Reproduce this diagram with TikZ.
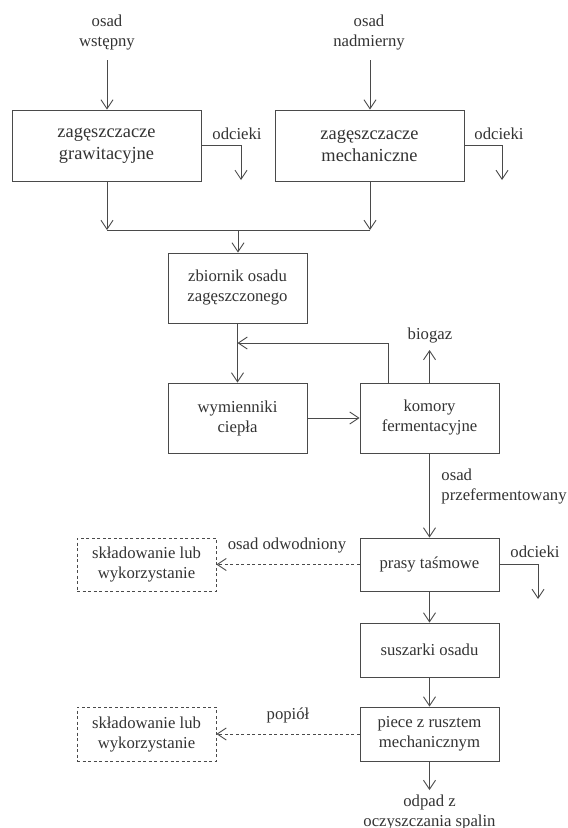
\documentclass[tikz,border=0pt]{standalone}
\usepackage{fontspec}
\setmainfont{Liberation Serif}
\usetikzlibrary{arrows.meta,calc}
\definecolor{ink}{HTML}{333333}
\definecolor{lineink}{HTML}{4A4A4A}
\newcommand\lblfont{\fontsize{16.7bp}{20bp}\selectfont}
\newcommand\bigfont{\fontsize{18.4bp}{22bp}\selectfont}
\begin{document}
\begin{tikzpicture}[x=1bp,y=-1bp,
  line width=0.9bp,
  color=lineink,
  box/.style={draw=lineink, rectangle, inner sep=0pt, align=center, font=\lblfont, text=ink, minimum width=139bp},
  bigbox/.style={box, font=\bigfont, minimum width=189bp, minimum height=71bp},
  dbox/.style={box, dash pattern=on 3bp off 2.5bp},
  arr/.style={-{Straight Barb[length=9bp,width=12bp]}},
  dline/.style={dash pattern=on 3bp off 2.5bp},
  lbl/.style={align=center, font=\lblfont, text=ink, inner sep=0pt}
]
\useasboundingbox (0,0) rectangle (568,828);

% boxes
\node[bigbox] (g1) at (106.5,145.5) {zagęszczacze\\grawitacyjne};
\node[bigbox] (g2) at (369.5,145.5) {zagęszczacze\\mechaniczne};
\node[box, minimum height=70bp] (z) at (237.5,288) {zbiornik osadu\\zagęszczonego};
\node[box, minimum height=70bp] (w) at (237.5,418) {wymienniki\\ciepła};
\node[box, minimum height=70bp] (k) at (429.5,418) {komory\\fermentacyjne};
\node[box, minimum height=53bp] (p) at (429.5,564.5) {prasy taśmowe};
\node[box, minimum height=54bp] (s) at (429.5,650) {suszarki osadu};
\node[box, minimum height=54bp] (pc) at (429.5,734) {piece z rusztem\\mechanicznym};
\node[dbox, minimum height=53bp] (d1) at (146.5,564.5) {składowanie lub\\wykorzystanie};
\node[dbox, minimum height=54bp] (d2) at (146.5,734) {składowanie lub\\wykorzystanie};

% labels
\node[lbl] (l1) at (107,33) {osad\\wstępny};
\node[lbl] (l2) at (369,33) {osad\\nadmierny};
\node[lbl] (lo1) at (237,134) {odcieki};
\node[lbl] (lo2) at (499,134) {odcieki};
\node[lbl] (lb) at (430,336) {biogaz};
\node[lbl, anchor=west, align=left] (lpf) at (441,486.5) {osad\\przefermentowany};
\node[lbl] (lo3) at (535,552) {odcieki};
\node[lbl] (lod) at (287,546) {osad odwodniony};
\node[lbl] (lpp) at (288,715) {popiół};
\node[lbl] (lout) at (429.5,812) {odpad z\\oczyszczania spalin};

% coordinates
\coordinate (in1) at (107,60);
\coordinate (in2) at (370,60);
\coordinate (o1) at (241,180);
\coordinate (o2) at (502,180);
\coordinate (m1) at (107,230);
\coordinate (m2) at (370,230);
\coordinate (mj) at (238,230);
\coordinate (fb) at (388,343);
\coordinate (bg) at (429.5,350);
\coordinate (o3) at (538,599);
\coordinate (out) at (429.5,790);

% connectors
\draw[arr] (in1) -- (in1 |- g1.north);
\draw[arr] (in2) -- (in2 |- g2.north);
\draw[arr] (g1.east) -| (o1);
\draw[arr] (g2.east) -| (o2);
\draw[arr] (m1 |- g1.south) -- (m1);
\draw[arr] (m2 |- g2.south) -- (m2);
\draw (m1) -- (m2);
\draw[arr] (mj) -- (mj |- z.north);
\draw[arr] (z) -- (w);
\draw[arr] (fb |- k.north) -- (fb) -- (fb -| z.south);
\draw[arr] (k.north) -- (bg);
\draw[arr] (w) -- (k);
\draw[arr] (k) -- (p);
\draw[arr] (p.east) -| (o3);
\draw[arr, dline] (p.west) -- (d1.east);
\draw[arr] (p) -- (s);
\draw[arr] (s) -- (pc);
\draw[arr, dline] (pc.west) -- (d2.east);
\draw[arr] (pc.south) -- (out);
\end{tikzpicture}
\end{document}
